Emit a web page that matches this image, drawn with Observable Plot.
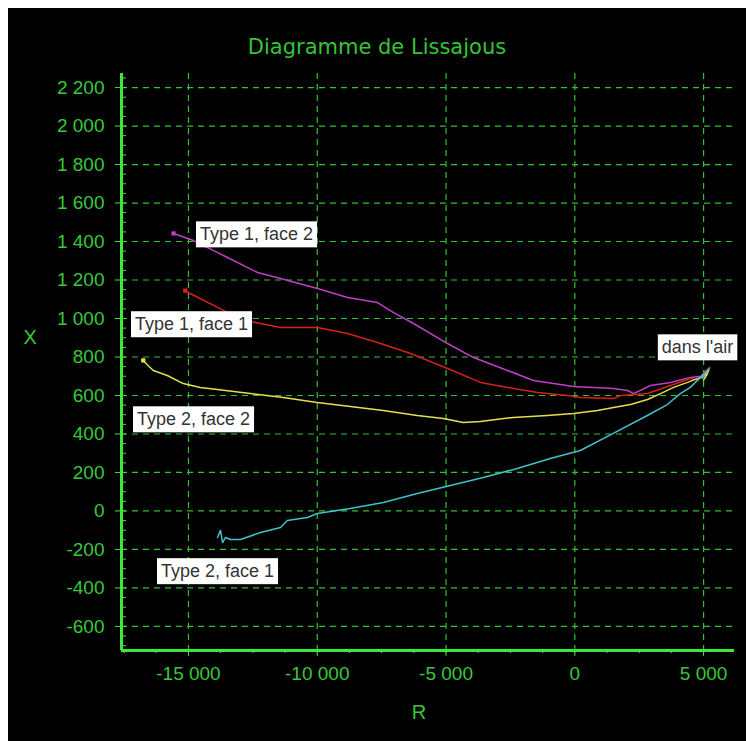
<!DOCTYPE html>
<html><head><meta charset="utf-8">
<script src="https://cdn.jsdelivr.net/npm/d3@7"></script>
<script src="https://cdn.jsdelivr.net/npm/@observablehq/plot@0.6"></script>
<style>
html,body{margin:0;padding:0;background:#fff;}
#wrap{position:absolute;left:8px;top:8px;width:738px;height:733px;background:#000;overflow:hidden;}
#title{height:52px;box-sizing:border-box;padding-top:28px;line-height:22px;text-align:center;color:#36c436;font-family:"DejaVu Sans";font-size:21px;}
#chart svg{display:block;}
</style></head><body>
<div id="wrap"><div id="title">Diagramme de Lissajous</div><div id="chart"></div></div>
<script>
// ---- data ----
const seriesNames = ["Type 1, face 2", "Type 1, face 1", "Type 2, face 2", "Type 2, face 1"];
const seriesColors = ["#c23ec8", "#d8201a", "#e2e24c", "#3ec4c8"];

const t1f2R = [-15580,-14804,-13484,-12319,-11426,-9989,-8824,-7659,-7038,-6262,-4941,-3932,-2612,-1602,-825,-49,1504,2048,2281,2941,3718,4494,4900,5077,4950,5232,5150];
const t1f2X = [1442,1405,1317,1239,1208,1156,1109,1083,1031,974,870,797,730,678,662,647,636,626,610,652,668,694,700,730,690,745,720];

const t1f1R = [-15125,-14931,-13639,-12785,-12202,-11426,-9989,-8824,-7659,-6378,-4941,-3660,-2612,-1447,-282,223,1504,1776,2825,3718,4494,4800,5077,4900,5150];
const t1f1X = [1145,1130,1042,990,974,953,953,922,875,818,740,668,642,616,600,590,584,600,610,652,688,680,720,700,735];

const t2f2R = [-16755,-16600,-16366,-15823,-15202,-14542,-13881,-12600,-11318,-9998,-8717,-7435,-6115,-5106,-4329,-3669,-2387,-1067,-49,883,1504,2164,2825,3329,3834,4378,4883,5155,5000,5200];
const t2f2X = [782,760,730,704,662,642,631,610,590,564,543,522,496,481,460,465,486,496,506,522,538,553,579,610,642,668,694,714,680,730];

const t2f1R = [-13872,-13756,-13678,-13562,-13368,-12980,-12203,-11426,-11164,-10387,-9998,-8717,-7435,-6115,-4834,-3553,-2232,-951,214,1495,2815,3591,4096,4484,4756,5077,4950,5200];
const t2f1X = [-138,-101,-164,-138,-148,-148,-112,-86,-49,-34,-13,13,44,91,132,174,221,273,314,403,496,553,610,642,678,720,690,740];

const labelText = ["Type 1, face 2", "Type 1, face 1", "Type 2, face 2", "Type 2, face 1", "dans l'air"];
const labelR = [-12358, -14882, -14804, -13872, 4766];
const labelX = [1436, 969, 475, -314, 849];

const xTicks = [-15000, -10000, -5000, 0, 5000];
const xTickLabels = ["-15 000", "-10 000", "-5 000", "0", "5 000"];
const yTicks = [-600, -400, -200, 0, 200, 400, 600, 800, 1000, 1200, 1400, 1600, 1800, 2000, 2200];
const yTickLabels = ["-600", "-400", "-200", "0", "200", "400", "600", "800", "1 000", "1 200", "1 400", "1 600", "1 800", "2 000", "2 200"];
const xDomain = [-17600, 6200];
const yDomain = [-725, 2273];
const xTitle = "R";
const yTitle = "X";

// ---- build tables ----
const seriesR = [t1f2R, t1f1R, t2f2R, t2f1R];
const seriesX = [t1f2X, t1f1X, t2f2X, t2f1X];
const rows = [];
seriesNames.forEach((s, k) => seriesR[k].forEach((r, i) => rows.push({series: s, R: r, X: seriesX[k][i]})));
const starts = seriesNames.slice(0, 3).map((s, k) => ({series: s, R: seriesR[k][0], X: seriesX[k][0]}));
const labels = labelText.map((t, i) => ({text: t, R: labelR[i], X: labelX[i]}));
const xMinor = d3.range(-17500, 6200, 1250);
const yMinor = d3.range(-700, 2273, 50);
const xFmt = d => xTickLabels[xTicks.indexOf(d)];
const yFmt = d => yTickLabels[yTicks.indexOf(d)];

const axisColor = "#3ee63e";
const gridColor = "#34c034";
const textColor = "#38c838";

const plot = Plot.plot({
  width: 738, height: 681,
  marginLeft: 113, marginRight: 12, marginTop: 13, marginBottom: 91,
  style: {background: "#000", color: textColor, fontFamily: "'Liberation Sans', Arial, sans-serif", fontSize: "19px"},
  x: {domain: xDomain},
  y: {domain: yDomain},
  color: {domain: seriesNames, range: seriesColors},
  marks: [
    Plot.gridX(xTicks, {stroke: gridColor, strokeOpacity: 1, strokeWidth: 1.2, strokeDasharray: "6,5"}),
    Plot.gridY(yTicks, {stroke: gridColor, strokeOpacity: 1, strokeWidth: 1.2, strokeDasharray: "6,5"}),
    Plot.axisX(xMinor, {tickSize: 3, text: null, stroke: axisColor, label: null}),
    Plot.axisX(xTicks, {tickSize: 6, tickPadding: 10, tickFormat: xFmt, stroke: axisColor, fill: textColor, fontSize: 19, label: null}),
    Plot.axisY(yMinor, {tickSize: 3, dx: 5, text: null, stroke: axisColor, label: null}),
    Plot.axisY(yTicks, {tickSize: 6, tickPadding: 11, tickFormat: yFmt, stroke: axisColor, fill: textColor, fontSize: 19, label: null}),
    Plot.ruleX([xDomain[0]], {stroke: axisColor, strokeWidth: 3}),
    Plot.ruleY([yDomain[0]], {stroke: axisColor, strokeWidth: 3}),
    Plot.line(rows, {x: "R", y: "X", z: "series", stroke: "series", strokeWidth: 1.5}),
    Plot.dot(starts, {x: "R", y: "X", fill: "series", symbol: "square", r: 2.4}),
    Plot.text(labels, {x: "R", y: "X", text: "text", fill: "#333", fontSize: 18}),
    Plot.text([yTitle], {text: d => d, frameAnchor: "left", dx: -98, dy: -24, fill: textColor, fontSize: 20}),
    Plot.text([xTitle], {text: d => d, frameAnchor: "bottom", dx: -9, dy: 68, fill: textColor, fontSize: 20})
  ]
});
document.getElementById("chart").append(plot);

// white boxes behind annotation labels
plot.querySelectorAll("text").forEach(t => {
  if (!labelText.includes(t.textContent)) return;
  const b = t.getBBox();
  const r = document.createElementNS("http://www.w3.org/2000/svg", "rect");
  r.setAttribute("x", b.x - 4);
  r.setAttribute("y", b.y - 3);
  r.setAttribute("width", b.width + 8);
  r.setAttribute("height", b.height + 6);
  r.setAttribute("fill", "#fff");
  if (t.getAttribute("transform")) r.setAttribute("transform", t.getAttribute("transform"));
  t.parentNode.insertBefore(r, t);
});
</script>
</body></html>
